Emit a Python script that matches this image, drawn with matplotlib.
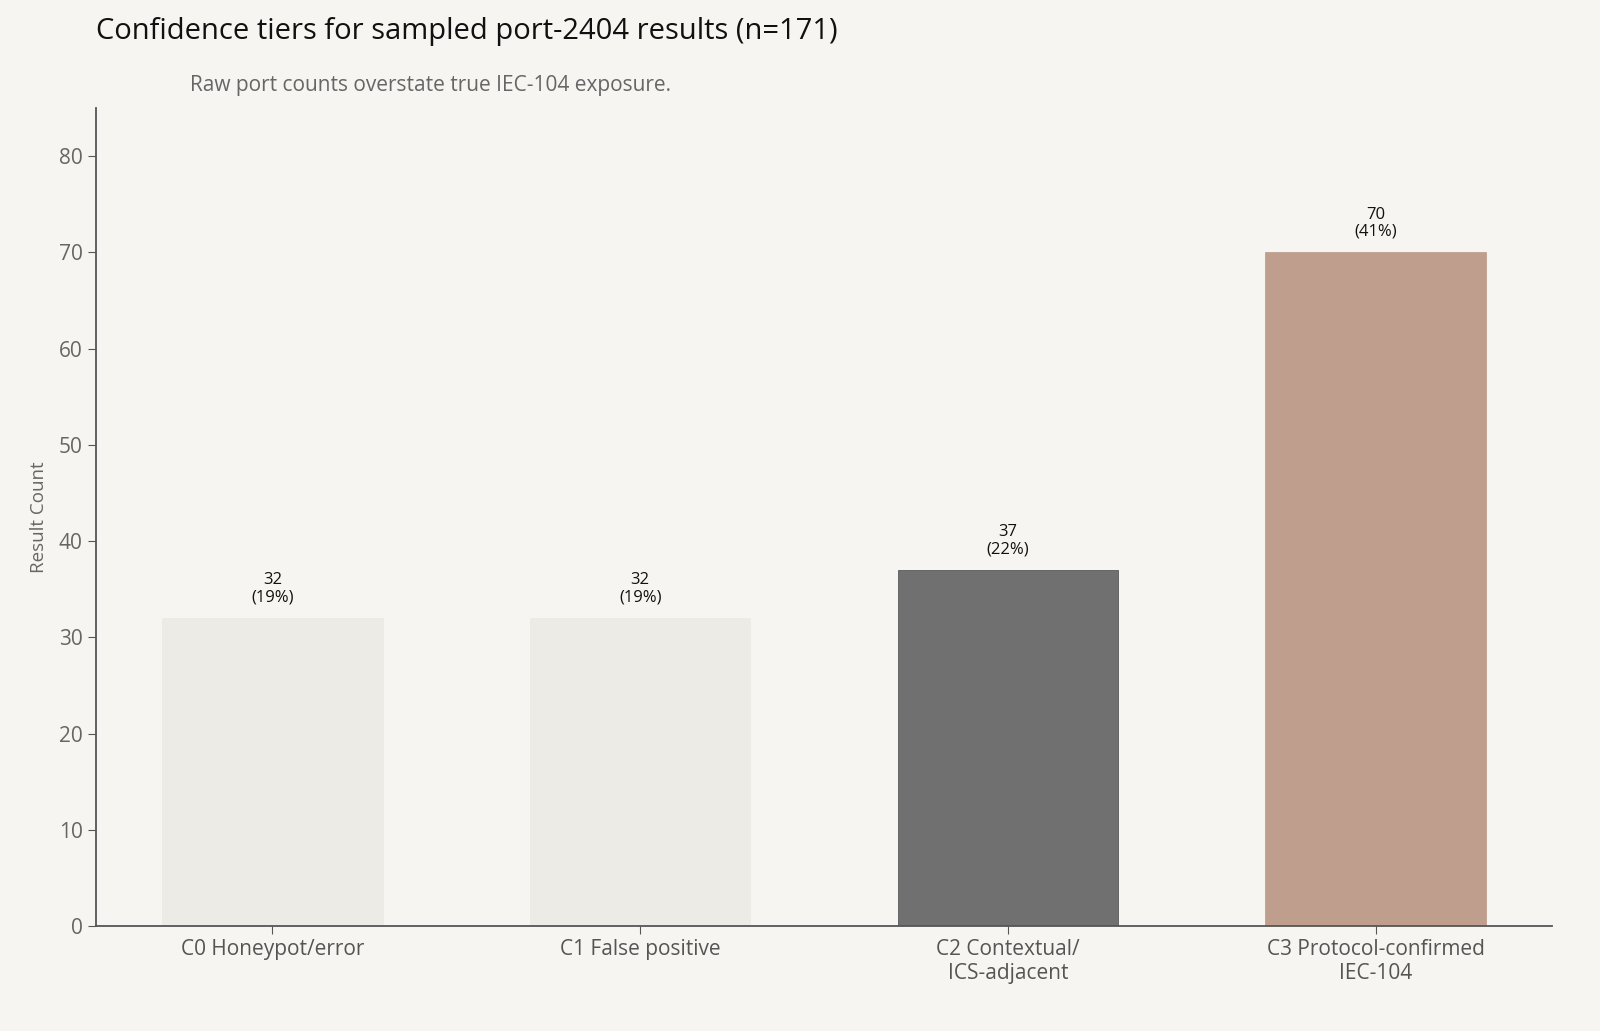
import matplotlib
matplotlib.use('Agg')
from matplotlib import pyplot as plt

categories = ['C0 Honeypot/error', 'C1 False positive', 'C2 Contextual/\nICS-adjacent', 'C3 Protocol-confirmed\nIEC-104']
counts = [32, 32, 37, 70]
pcts = [19, 19, 22, 41]
colors = ['#EDEBE6', '#EDEBE6', '#707070', '#C09E8E']

plt.rcParams['font.family'] = ['Open Sans', 'DejaVu Sans']
bg = '#F7F5F1'

fig = plt.figure(figsize=(16, 10.31), dpi=100, facecolor=bg)
ax = fig.add_axes([96/1600, 1 - 926/1031, (1552-96)/1600, (926-108)/1031], facecolor=bg)

x = list(range(len(categories)))
ax.bar(x, counts, width=0.6, color=colors, edgecolor=['#EDEBE6', '#EDEBE6', '#5a5a5a', '#C09E8E'], linewidth=0.6)
for i, (c, p) in enumerate(zip(counts, pcts)):
	ax.text(i, c + 1.3, f'{c}\n({p}%)', ha='center', va='bottom', fontsize=12, color='#111111', linespacing=1.1)

ax.set_xlim(-0.48, 3.48)
ax.set_ylim(0, 85)
ax.set_xticks(x)
ax.set_xticklabels(categories, fontsize=15, color='#555555', linespacing=1.15)
ax.set_yticks(range(0, 81, 10))
ax.tick_params(axis='y', labelsize=15, labelcolor='#666666', color='#555555', length=6)
ax.tick_params(axis='x', color='#555555', length=6)
ax.set_ylabel('Result Count', fontsize=13.5, color='#666666', labelpad=8)
for s in ['top', 'right']:
	ax.spines[s].set_visible(False)
for s in ['left', 'bottom']:
	ax.spines[s].set_color('#555555')
	ax.spines[s].set_linewidth(1.3)

fig.text(96/1600, 1 - 32/1031, 'Confidence tiers for sampled port-2404 results (n=171)', fontsize=21, color='#111111', va='center')
fig.text(190/1600, 1 - 86/1031, 'Raw port counts overstate true IEC-104 exposure.', fontsize=15, color='#666666', va='center')

fig.savefig('out.png', dpi=100, facecolor=bg)
